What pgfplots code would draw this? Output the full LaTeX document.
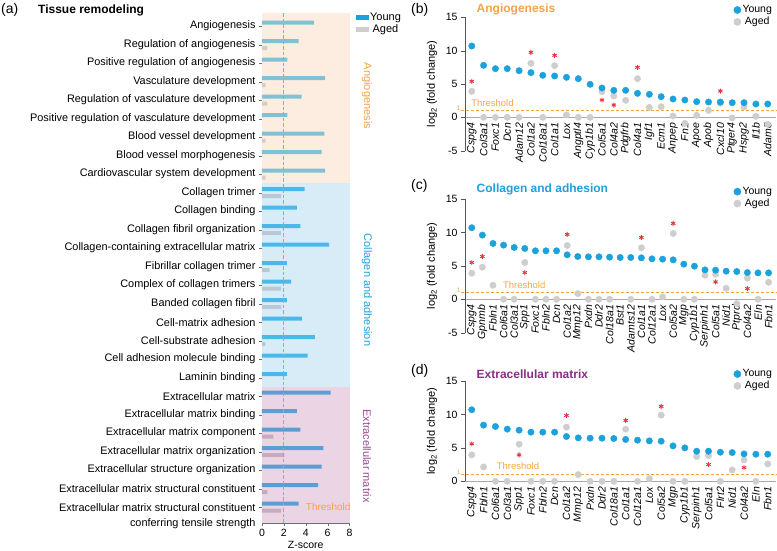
\documentclass[border=0pt]{standalone}
\usepackage{pgfplots}
\pgfplotsset{compat=1.18}
\usepackage{fontspec}
\setmainfont{Liberation Sans}

\definecolor{bgorange}{HTML}{FDEDE0}
\definecolor{bgblue}{HTML}{D8ECF8}
\definecolor{bgpink}{HTML}{EBD5E5}
\definecolor{yA}{HTML}{80C1D3}
\definecolor{yC}{HTML}{4CB8EA}
\definecolor{yE}{HTML}{5C9ED4}
\definecolor{aA}{HTML}{D9CCC6}
\definecolor{aC}{HTML}{B9C8D2}
\definecolor{aE}{HTML}{C8A9BD}
\definecolor{youngc}{HTML}{1BA1DC}
\definecolor{agedc}{HTML}{D0CDCD}
\definecolor{thr}{HTML}{F7A540}
\definecolor{thrdark}{HTML}{F59A28}
\definecolor{torange}{HTML}{F5A24A}
\definecolor{tblue}{HTML}{1EA1DB}
\definecolor{tpurple}{HTML}{8B2C86}
\definecolor{lpurple}{HTML}{9A4A94}
\definecolor{starred}{HTML}{E8323C}
\definecolor{axisgray}{HTML}{707070}
\definecolor{axisdark}{HTML}{555555}
\definecolor{zerogray}{HTML}{A8A8A8}

\pgfplotsset{
  dots/.style={
    scale only axis, width=311pt,
    axis y line=left, axis x line=middle, axis line style={-},
    y axis line style={draw=axisdark, line width=0.6pt},
    x axis line style={draw=zerogray, line width=1.2pt},
    clip=false, tick align=outside, major tick length=4pt,
    ytick style={axisdark}, xtick style={draw=none},
    xticklabel style={rotate=90, anchor=east, font=\itshape\fontsize{10.5}{10.5}\selectfont, inner sep=1.5pt},
    yticklabel style={font=\fontsize{10.5}{11}\selectfont},
    /pgf/number format/assume math mode=true,
    ylabel={log\textsubscript{2} (fold change)},
    ylabel style={font=\fontsize{11}{11}\selectfont, at={(axis description cs:-0.106,0.5)}, anchor=center},
    legend style={draw=none, fill=none, font=\fontsize{10.5}{10.5}\selectfont,
      anchor=north west, row sep=0pt, nodes={inner sep=1.5pt}},
    legend image code/.code={\draw[#1] plot coordinates {(4pt,0pt)};},
  },
  young/.style={only marks, mark=*, mark size=3.2pt, color=youngc, forget plot},
  aged/.style={only marks, mark=*, mark size=3.2pt, color=agedc, forget plot},
  stars/.style={only marks, mark=asterisk, mark size=2.5pt, line width=0.9pt, color=starred, forget plot},
  thrline/.style={draw=thr, line width=0.9pt, dash pattern=on 3pt off 2pt, forget plot},
}

\begin{document}
\begin{tikzpicture}[x=1pt,y=1pt]
\path[use as bounding box] (0,0) rectangle (777,-551);

% ---------------- (a) ----------------
\begin{axis}[
  at={(262pt,-522.7pt)}, anchor=south west,
  scale only axis, width=87.5pt, height=509.7pt,
  xmin=0, xmax=8, ymin=-0.84, ymax=26.71,
  axis x line=bottom, axis y line=left, axis line style={-, draw=axisgray},
  clip=false,
  xtick={0,2,4,6,8}, ytick={0,...,26},
  tick align=outside, major tick length=3pt, tick style={axisgray},
  yticklabels={
    {Extracellular matrix structural constituent\smash{\llap{\raisebox{-15pt}{conferring tensile strength}}}},
    Extracellular matrix structural constituent,
    Extracellular structure organization,
    Extracellular matrix organization,
    Extracellular matrix component,
    Extracellular matrix binding,
    Extracellular matrix,
    Laminin binding,
    Cell adhesion molecule binding,
    Cell-substrate adhesion,
    Cell-matrix adhesion,
    Banded collagen fibril,
    Complex of collagen trimers,
    Fibrillar collagen trimer,
    Collagen-containing extracellular matrix,
    Collagen fibril organization,
    Collagen binding,
    Collagen trimer,
    Cardiovascular system development,
    Blood vessel morphogenesis,
    Blood vessel development,
    Positive regulation of vasculature development,
    Regulation of vasculature development,
    Vasculature development,
    Positive regulation of angiogenesis,
    Regulation of angiogenesis,
    Angiogenesis},
  yticklabel style={font=\fontsize{10.9}{13}\selectfont},
  xticklabel style={font=\fontsize{10.5}{11}\selectfont},
  /pgf/number format/assume math mode=true,
  xlabel={Z-score},
  xlabel style={font=\fontsize{10.5}{11}\selectfont, at={(axis description cs:0.5,-0.044)}, anchor=center},
  legend style={at={(axis description cs:1.04,1.008)}, anchor=north west, draw=none, fill=none,
    font=\fontsize{11}{11}\selectfont, row sep=0pt, nodes={inner sep=1.5pt}},
]
% section backgrounds
\addplot[fill=bgorange, draw=none, forget plot] coordinates {(0,17.5) (8,17.5) (8,26.71) (0,26.71)};
\addplot[fill=bgblue, draw=none, forget plot] coordinates {(0,6.5) (8,6.5) (8,17.5) (0,17.5)};
\addplot[fill=bgpink, draw=none, forget plot] coordinates {(0,-0.84) (8,-0.84) (8,6.5) (0,6.5)};
% young
\addplot[xbar, bar width=4pt, bar shift=3.5pt, fill=yA, draw=none, forget plot]
  coordinates {(4.77,26) (3.34,25) (2.33,24) (5.78,23) (3.62,22) (2.33,21) (5.7,20) (5.45,19) (5.78,18)};
\addplot[xbar, bar width=4pt, bar shift=3.5pt, fill=yC, draw=none, forget plot]
  coordinates {(3.9,17) (3.19,16) (3.5,15) (6.13,14) (2.27,13) (2.67,12) (2.27,11) (3.65,10) (4.84,9) (4.17,8) (2.27,7)};
\addplot[xbar, bar width=4pt, bar shift=3.5pt, fill=yE, draw=none, forget plot]
  coordinates {(6.28,6) (3.19,5) (3.5,4) (5.6,3) (5.45,2) (5.12,1) (3.34,0)};
% aged
\addplot[xbar, bar width=4pt, bar shift=-3.5pt, fill=aA, draw=none, forget plot]
  coordinates {(0.49,25) (0.34,23) (0.5,22) (0.34,20) (0.34,18)};
\addplot[xbar, bar width=4pt, bar shift=-3.5pt, fill=aC, draw=none, forget plot]
  coordinates {(1.75,17) (1.75,15) (0.7,13) (1.75,12) (1.75,11) (0.3,9)};
\addplot[xbar, bar width=4pt, bar shift=-3.5pt, fill=aE, draw=none, forget plot]
  coordinates {(1.04,4) (2.05,3) (0.5,1) (1.75,0)};
% threshold
\addplot[color=thrdark, line width=1.1pt, dash pattern=on 3.5pt off 2pt, forget plot] coordinates {(2,-0.84) (2,26.71)};
\node[anchor=west, text=thr, font=\fontsize{10}{10}\selectfont, inner sep=0pt] at (axis cs:4.0,0) {Threshold};
\addlegendimage{legend image code/.code={\fill[youngc] (0pt,-2pt) rectangle (12pt,2pt);}}
\addlegendentry{Young}
\addlegendimage{legend image code/.code={\fill[agedc] (0pt,-2pt) rectangle (12pt,2pt);}}
\addlegendentry{Aged}
\end{axis}

% ---------------- (b) ----------------
\begin{axis}[dots,
  at={(465pt,-150.7pt)}, anchor=south west, height=133.4pt,
  xmin=-0.57, xmax=25.7, ymin=-5, ymax=15, ytick={-5,0,5,10,15},
  xtick={0,...,25},
  xticklabels={Cspg4,Col3a1,Foxc1,Dcn,Adam12,Col1a2,Col18a1,Col1a1,Lox,Angptl4,Cyp1b1,Col5a1,Col4a2,Pdgfrb,Col4a1,Igf1,Ecm1,Anpep,Fn1,Apoe,Apob,Cxcl10,Ptger4,Hspg2,Il1b,Adam8},
  legend style={at={(axis description cs:0.854,1.115)}},
]
\addplot[thrline] coordinates {(-0.91,1) (25.7,1)};
\addplot[aged] coordinates {(0,3.9) (1,0) (2,0) (3,0) (4,0) (5,8.1) (6,0) (7,7.75) (8,0.35) (9,0) (10,0) (11,3.85) (12,3.2) (13,2.55) (14,5.8) (15,1.5) (16,1.6) (17,0.2) (18,-0.9) (19,0.3) (20,1.05) (21,2.1) (22,-0.1) (23,1.55) (24,0.15) (25,-1.05)};
\addplot[young] coordinates {(0,10.7) (1,7.8) (2,7.3) (3,7.3) (4,7.0) (5,6.7) (6,6.3) (7,6.2) (8,6.0) (9,5.8) (10,4.95) (11,4.4) (12,4.05) (13,4.05) (14,3.6) (15,3.45) (16,3.1) (17,2.75) (18,2.6) (19,2.35) (20,2.3) (21,2.3) (22,2.2) (23,2.2) (24,2.0) (25,2.0)};
\addplot[stars] coordinates {(0,5.4) (5,9.75) (7,9.3) (11,2.6) (12,1.85) (14,7.5) (21,3.95)};
\node[anchor=west, text=thr, font=\fontsize{9.5}{9.5}\selectfont, inner sep=0pt] at (axis cs:-0.05,2.2) {Threshold};
\node[anchor=east, text=thr, font=\fontsize{6.5}{6.5}\selectfont, inner sep=0.5pt] at (axis cs:-0.9,1.4) {1};
\addlegendimage{only marks, mark=*, mark size=3.6pt, color=youngc}
\addlegendentry{Young}
\addlegendimage{only marks, mark=*, mark size=3.6pt, color=agedc}
\addlegendentry{Aged}
\end{axis}

% ---------------- (c) ----------------
\begin{axis}[dots,
  at={(465pt,-332.7pt)}, anchor=south west, height=133.7pt,
  xmin=-0.64, xmax=28.7, ymin=-5, ymax=15, ytick={-5,0,5,10,15},
  xtick={0,...,28},
  xticklabels={Cspg4,Gpnmb,Fbln1,Col6a1,Col3a1,Spp1,Foxc1,Fbln2,Dcn,Col1a2,Mmp12,Pxdn,Ddr2,Col18a1,Bst1,Adamts12,Col1a1,Col12a1,Lox,Col5a2,Mgp,Cyp1b1,Serpinh1,Col5a1,Nid1,Ptprd,Col4a2,Eln,Fbn1},
  legend style={at={(axis description cs:0.854,1.115)}},
]
\addplot[thrline] coordinates {(-1.02,1) (28.7,1)};
\addplot[aged] coordinates {(0,3.9) (1,4.8) (2,2.1) (3,0) (4,0) (5,5.5) (6,0) (7,0) (8,0) (9,8.05) (10,0.85) (11,0) (12,0) (13,0) (15,0) (16,7.7) (17,0) (18,0.35) (19,9.85) (20,0) (21,0) (22,3.6) (23,3.75) (24,1.65) (25,-0.65) (26,3.15) (27,0) (28,2.55)};
\addplot[young] coordinates {(0,10.7) (1,9.6) (2,8.35) (3,8.1) (4,7.75) (5,7.6) (6,7.25) (7,7.25) (8,7.25) (9,6.65) (10,6.4) (11,6.35) (12,6.35) (13,6.3) (14,6.25) (15,6.25) (16,6.2) (17,6.05) (18,6.0) (19,5.9) (20,5.25) (21,4.95) (22,4.4) (23,4.35) (24,4.2) (25,4.15) (26,4.0) (27,3.95) (28,3.95)};
\addplot[stars] coordinates {(0,5.5) (1,6.4) (5,4.0) (9,9.7) (16,9.25) (19,11.35) (23,2.6) (26,1.6)};
\node[anchor=west, text=thr, font=\fontsize{9.5}{9.5}\selectfont, inner sep=0pt] at (axis cs:2.93,2.15) {Threshold};
\node[anchor=east, text=thr, font=\fontsize{6.5}{6.5}\selectfont, inner sep=0.5pt] at (axis cs:-1.0,1.4) {1};
\addlegendimage{only marks, mark=*, mark size=3.6pt, color=youngc}
\addlegendentry{Young}
\addlegendimage{only marks, mark=*, mark size=3.6pt, color=agedc}
\addlegendentry{Aged}
\end{axis}

% ---------------- (d) ----------------
\begin{axis}[dots,
  at={(465pt,-481.3pt)}, anchor=south west, height=100.3pt,
  xmin=-0.57, xmax=25.7, ymin=0, ymax=15, ytick={0,5,10,15},
  xtick={0,...,25},
  xticklabels={Cspg4,Fbln1,Col6a1,Col3a1,Spp1,Foxc1,Fbln2,Dcn,Col1a2,Mmp12,Pxdn,Ddr2,Col18a1,Col1a1,Col12a1,Lox,Col5a2,Mgp,Cyp1b1,Serpinh1,Col5a1,Flrt2,Nid1,Col4a2,Eln,Fbn1},
  legend style={at={(axis description cs:0.854,1.15)}},
]
\addplot[thrline] coordinates {(-0.91,1) (25.7,1)};
\addplot[aged] coordinates {(0,3.95) (1,2.15) (2,0) (3,0) (4,5.55) (5,0) (6,0) (7,0) (8,8.1) (9,1.0) (10,0) (11,0) (12,0) (13,7.8) (14,0) (15,0.4) (16,9.9) (17,0) (18,0) (19,3.7) (20,3.85) (21,0) (22,1.7) (23,3.2) (24,0) (25,2.6)};
\addplot[young] coordinates {(0,10.7) (1,8.4) (2,8.2) (3,7.8) (4,7.65) (5,7.35) (6,7.35) (7,7.35) (8,6.7) (9,6.5) (10,6.45) (11,6.45) (12,6.4) (13,6.25) (14,6.15) (15,6.05) (16,6.0) (17,5.3) (18,5.0) (19,4.5) (20,4.5) (21,4.35) (22,4.3) (23,4.1) (24,4.05) (25,4.05)};
\addplot[stars] coordinates {(0,5.6) (4,3.95) (8,9.85) (13,9.1) (16,11.2) (20,2.5) (23,2.05)};
\node[anchor=west, text=thr, font=\fontsize{9.5}{9.5}\selectfont, inner sep=0pt] at (axis cs:2.1,2.3) {Threshold};
\node[anchor=east, text=thr, font=\fontsize{6.5}{6.5}\selectfont, inner sep=0.5pt] at (axis cs:-0.9,1.4) {1};
\addlegendimage{only marks, mark=*, mark size=3.6pt, color=youngc}
\addlegendentry{Young}
\addlegendimage{only marks, mark=*, mark size=3.6pt, color=agedc}
\addlegendentry{Aged}
\end{axis}

% titles and panel letters
\node[anchor=west, inner sep=0pt, font=\fontsize{14}{14}\selectfont] at (1,-10) {(a)};
\node[anchor=west, inner sep=0pt, font=\bfseries\fontsize{12}{12}\selectfont] at (38,-10) {Tissue remodeling};
\node[anchor=west, inner sep=0pt, font=\fontsize{14}{14}\selectfont] at (411,-10) {(b)};
\node[anchor=west, inner sep=0pt, font=\bfseries\fontsize{12}{12}\selectfont, text=torange] at (476.5,-9.5) {Angiogenesis};
\node[anchor=west, inner sep=0pt, font=\fontsize{14}{14}\selectfont] at (411,-186) {(c)};
\node[anchor=west, inner sep=0pt, font=\bfseries\fontsize{12}{12}\selectfont, text=tblue] at (476.5,-189.3) {Collagen and adhesion};
\node[anchor=west, inner sep=0pt, font=\fontsize{14}{14}\selectfont] at (411,-371) {(d)};
\node[anchor=west, inner sep=0pt, font=\bfseries\fontsize{12}{12}\selectfont, text=tpurple] at (476.5,-374) {Extracellular matrix};
% section names beside (a)
\node[rotate=-90, text=torange, font=\fontsize{11}{11}\selectfont] at (367,-96) {Angiogenesis};
\node[rotate=-90, text=tblue, font=\fontsize{11}{11}\selectfont] at (367,-290) {Collagen and adhesion};
\node[rotate=-90, text=lpurple, font=\fontsize{11}{11}\selectfont] at (367,-456) {Extracellular matrix};
\end{tikzpicture}
\end{document}
